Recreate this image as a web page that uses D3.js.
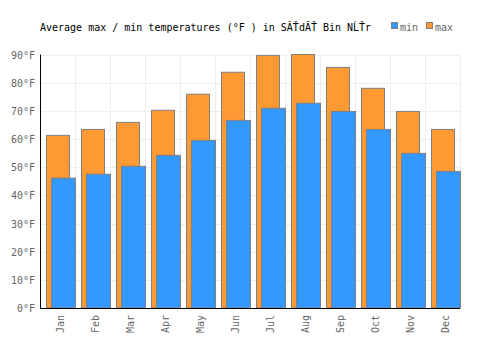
<!DOCTYPE html>
<html>
<head>
<meta charset="utf-8">
<script src="https://cdn.jsdelivr.net/npm/d3@7"></script>
<style>
  body { margin: 0; background: #fff; }
  text { font-family: "DejaVu Sans Mono", monospace; }
</style>
</head>
<body>
<svg id="chart" width="500" height="350"></svg>
<script>
const months = ["Jan", "Feb", "Mar", "Apr", "May", "Jun", "Jul", "Aug", "Sep", "Oct", "Nov", "Dec"];
const maxTemps = [61.3, 63.4, 65.9, 70.2, 75.9, 83.7, 89.7, 90.0, 85.4, 78.0, 69.8, 63.4];
const minTemps = [46.1, 47.5, 50.3, 54.2, 59.5, 66.6, 70.9, 72.7, 69.8, 63.4, 54.9, 48.5];
const yTicks = [0, 10, 20, 30, 40, 50, 60, 70, 80, 90];

const svg = d3.select("#chart");
const margin = { left: 40, right: 40, top: 54.5, bottom: 42 };
const width = 500, height = 350;

const x = d3.scaleBand()
    .domain(months)
    .range([margin.left, width - margin.right]);

const y = d3.scaleLinear()
    .domain([0, 90])
    .range([height - margin.bottom, margin.top]);

// gridlines
svg.append("g")
    .selectAll("line.h")
    .data(yTicks)
    .join("line")
    .attr("x1", margin.left).attr("x2", width - margin.right)
    .attr("y1", d => Math.round(y(d)) + 0.5).attr("y2", d => Math.round(y(d)) + 0.5)
    .attr("stroke", "#eeeeee");

svg.append("g")
    .selectAll("line.v")
    .data(months)
    .join("line")
    .attr("x1", d => Math.round(x(d) + x.bandwidth()) + 0.5)
    .attr("x2", d => Math.round(x(d) + x.bandwidth()) + 0.5)
    .attr("y1", margin.top).attr("y2", height - margin.bottom)
    .attr("stroke", "#eeeeee");

// max bars (behind, shifted left)
svg.append("g")
    .selectAll("rect")
    .data(maxTemps)
    .join("rect")
    .attr("x", (d, i) => x(months[i]) + 6.5)
    .attr("y", d => y(d))
    .attr("width", 23)
    .attr("height", d => y(0) - y(d))
    .attr("fill", "#ff9933")
    .attr("stroke", "#808080")
    .attr("stroke-width", 1);

// min bars
svg.append("g")
    .selectAll("rect")
    .data(minTemps)
    .join("rect")
    .attr("x", (d, i) => x(months[i]) + 11.5)
    .attr("y", d => y(d))
    .attr("width", 24)
    .attr("height", d => y(0) - y(d))
    .attr("fill", "#3399ff")
    .attr("stroke", "#808080")
    .attr("stroke-width", 1);

// axes lines
svg.append("line")
    .attr("x1", margin.left + 0.5).attr("x2", margin.left + 0.5)
    .attr("y1", margin.top).attr("y2", y(0))
    .attr("stroke", "#000");
svg.append("line")
    .attr("x1", margin.left).attr("x2", width - margin.right)
    .attr("y1", y(0) + 0.5).attr("y2", y(0) + 0.5)
    .attr("stroke", "#000");

// y labels
svg.append("g")
    .selectAll("text")
    .data(yTicks)
    .join("text")
    .attr("x", 35)
    .attr("y", d => y(d) + 4)
    .attr("text-anchor", "end")
    .attr("fill", "#666")
    .attr("font-size", 10)
    .text(d => d + "°F");

// x labels (rotated)
svg.append("g")
    .selectAll("text")
    .data(months)
    .join("text")
    .attr("transform", d => `translate(${x(d) + x.bandwidth() / 2 + 6},${y(0) + 7}) rotate(-90)`)
    .attr("text-anchor", "end")
    .attr("fill", "#666")
    .attr("font-size", 10)
    .text(d => d);

// title
svg.append("text")
    .attr("x", 40)
    .attr("y", 31)
    .attr("font-size", 10)
    .attr("fill", "#000")
    .text("Average max / min temperatures (°F ) in SĂŤdĂŤ Bin NĹŤr");

// legend
const legend = [["min", "#3399ff"], ["max", "#ff9933"]];
const lg = svg.append("g");
legend.forEach((l, i) => {
    const lx = 391 + i * 35;
    lg.append("rect")
        .attr("x", lx + 0.5).attr("y", 22.5)
        .attr("width", 6).attr("height", 6)
        .attr("fill", l[1]).attr("stroke", "#808080");
    lg.append("text")
        .attr("x", lx + 9).attr("y", 31)
        .attr("font-size", 10)
        .attr("fill", "#666")
        .text(l[0]);
});
</script>
</body>
</html>
